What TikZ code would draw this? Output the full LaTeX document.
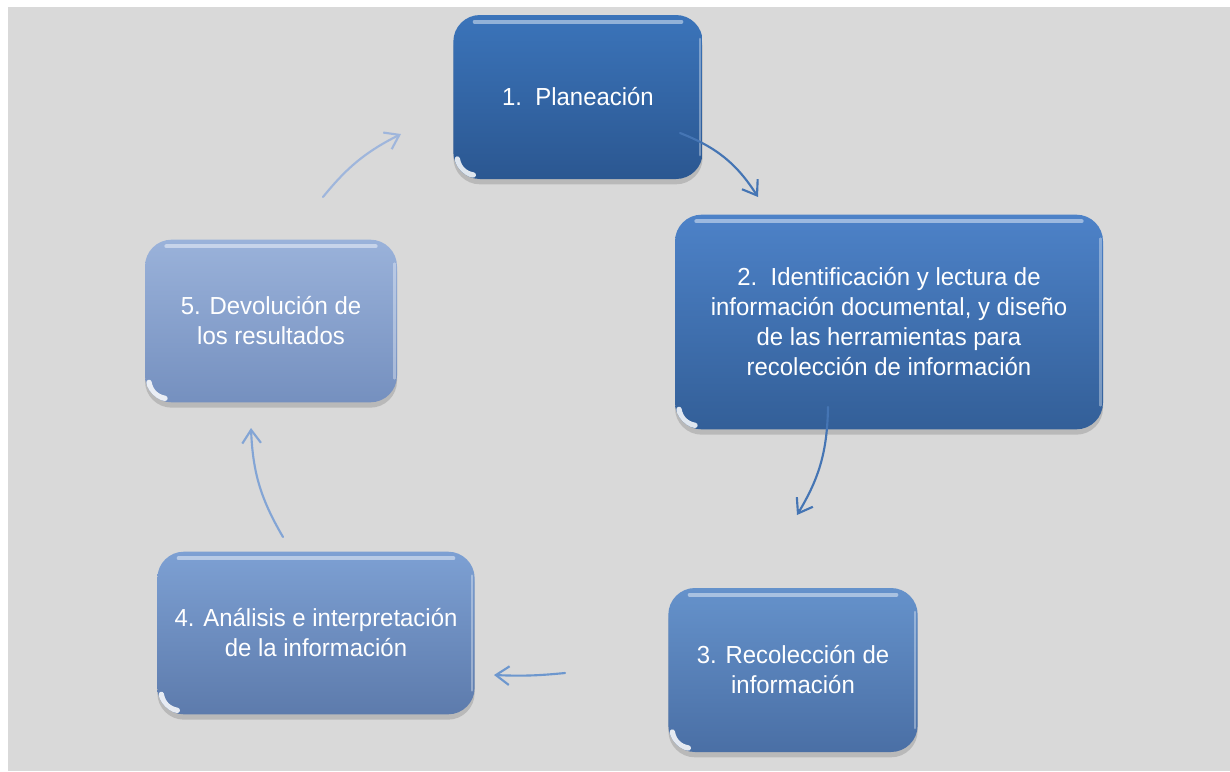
\documentclass[tikz,border=0pt]{standalone}
\usepackage{fontspec}
\setmainfont{Liberation Sans}[FakeStretch=0.97]
\usetikzlibrary{arrows.meta,shadows}
\definecolor{fondo}{HTML}{D9D9D9}
\definecolor{azulA}{HTML}{3B74BA}\definecolor{azulAb}{HTML}{2B5791}
\definecolor{azulB}{HTML}{4D82C8}\definecolor{azulBb}{HTML}{335F98}
\definecolor{azulC}{HTML}{6592CB}\definecolor{azulCb}{HTML}{4A6FA5}
\definecolor{azulD}{HTML}{7DA0D3}\definecolor{azulDb}{HTML}{5D7BAC}
\definecolor{azulE}{HTML}{9AB2DA}\definecolor{azulEb}{HTML}{7590BF}
\tikzset{
  caja/.style 2 args={rounded corners=20pt, text=white, align=center, inner sep=0pt,
    top color=#1, bottom color=#2,
    drop shadow={shadow xshift=0pt, shadow yshift=-4pt, opacity=.35},
    path picture={
      \draw[white, opacity=.45, line width=3pt, line cap=round]
        ([xshift=16pt,yshift=-5pt]path picture bounding box.north west) --
        ([xshift=-16pt,yshift=-5pt]path picture bounding box.north east);
      \draw[white, opacity=.35, line width=2pt, line cap=round]
        ([xshift=-2pt,yshift=-18pt]path picture bounding box.north east) --
        ([xshift=-2pt,yshift=18pt]path picture bounding box.south east);
      \draw[white, opacity=.85, line width=4pt, line cap=round]
        ([xshift=3pt,yshift=15pt]path picture bounding box.south west) to[bend right=35]
        ([xshift=15pt,yshift=3pt]path picture bounding box.south west);
    }},
  flecha/.style={-{Straight Barb[length=10pt,width=14pt]}, line width=1.6pt, draw=#1}
}
\begin{document}
\begin{tikzpicture}[x=0.75pt, y=-0.75pt, font=\fontsize{18.5}{22.5}\selectfont, line join=round, line cap=round]
  \useasboundingbox (0,0) rectangle (1230,771);
  \fill[fondo] (8,7) rectangle (1230,771);

  \node[caja={azulA}{azulAb}, minimum width=187pt, minimum height=123pt] (p1) at (578,97) {1.\ \ Planeación};
  \node[caja={azulB}{azulBb}, minimum width=321pt, minimum height=161pt] (p2) at (889,322)
    {2.\ \ Identificación y lectura de\\información documental, y diseño\\de las herramientas para\\recolección de información};
  \node[caja={azulC}{azulCb}, minimum width=187pt, minimum height=123pt] (p3) at (793,670) {3. Recolección de\\información};
  \node[caja={azulD}{azulDb}, minimum width=238pt, minimum height=122pt] (p4) at (316,633) {4. Análisis e interpretación\\de la información};
  \node[caja={azulE}{azulEb}, minimum width=189pt, minimum height=122pt] (p5) at (271,321) {5. Devolución de\\los resultados};

  % extremos de las flechas
  \coordinate (f1a) at (680,133); \coordinate (f1b) at (758,197);
  \coordinate (f2a) at (828,407); \coordinate (f2b) at (797,515);
  \coordinate (f3a) at (565,673); \coordinate (f3b) at (494,675);
  \coordinate (f4a) at (283,537); \coordinate (f4b) at (251,428);
  \coordinate (f5a) at (323,197); \coordinate (f5b) at (401,134);

  \draw[flecha=azulB!90!black] (f1a) to[bend left=18] (f1b);
  \draw[flecha=azulB!90!black] (f2a) to[bend left=15] (f2b);
  \draw[flecha=azulC!95!white] (f3a) to[bend left=4] (f3b);
  \draw[flecha=azulD!95!white] (f4a) to[bend left=14] (f4b);
  \draw[flecha=azulE!95!white] (f5a) to[bend left=12] (f5b);
\end{tikzpicture}
\end{document}
